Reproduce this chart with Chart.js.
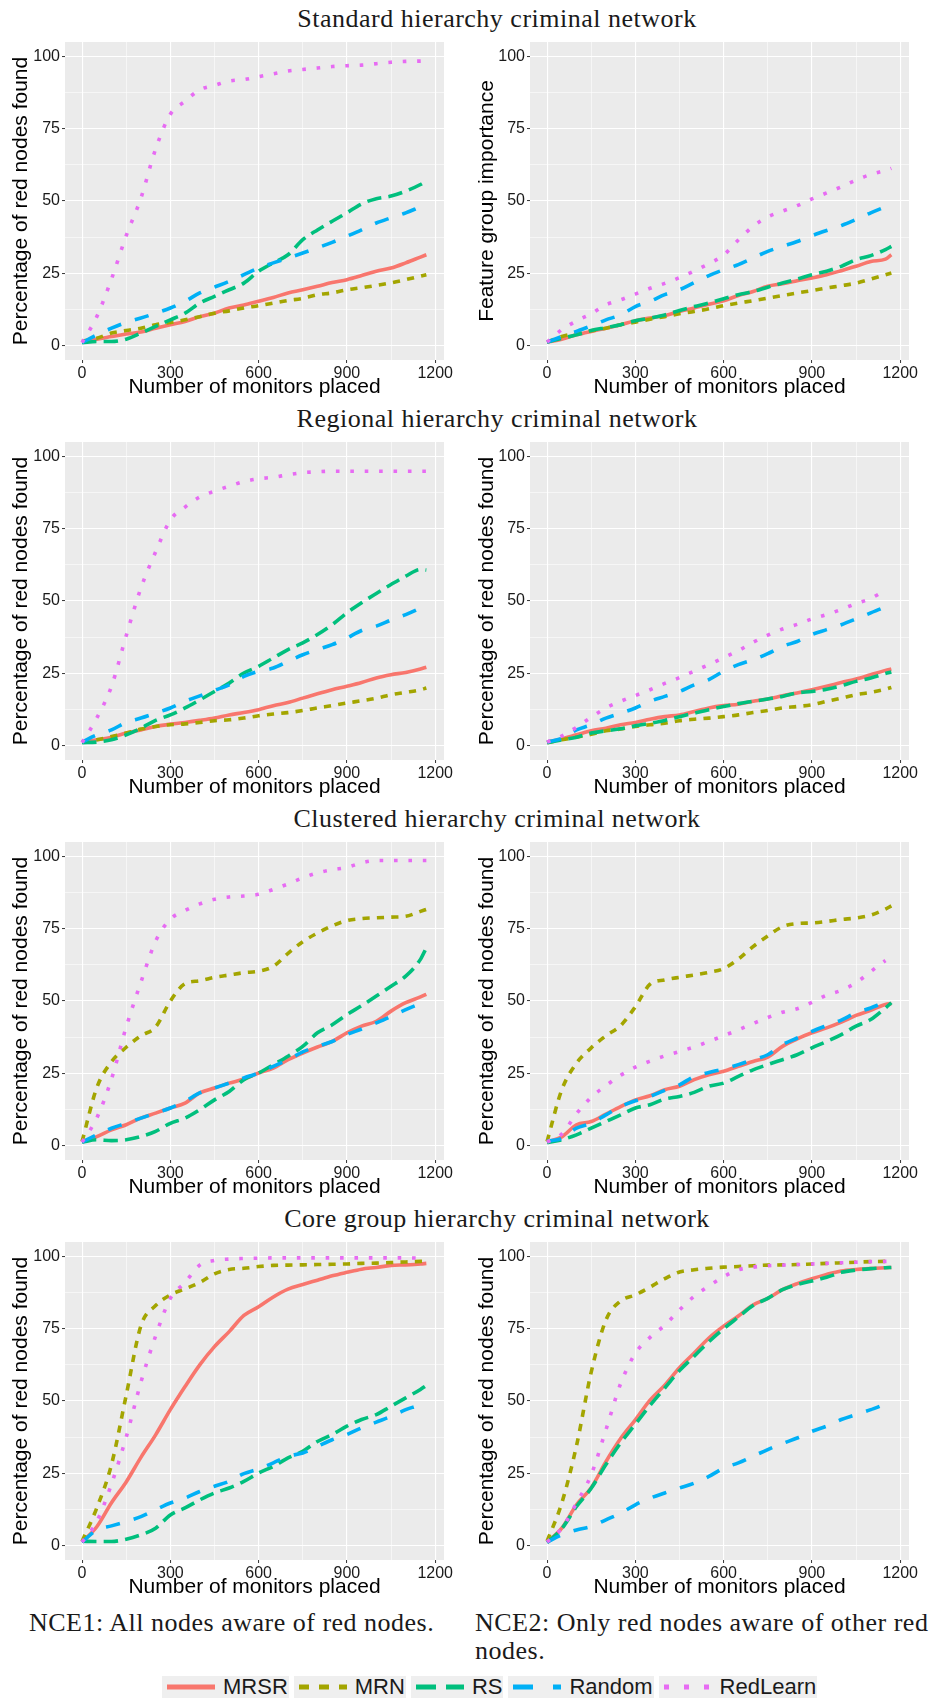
<!DOCTYPE html>
<html>
<head>
<meta charset="utf-8">
<script src="https://cdn.jsdelivr.net/npm/chart.js@4.4.1/dist/chart.umd.min.js"></script>
<style>
    body { margin: 0; background: #fff; width: 934px; height: 1700px; position: relative; overflow: hidden; }
    canvas { position: absolute; }
    .row-title, .caption {
        position: absolute;
        font-family: "Liberation Serif", "DejaVu Serif", serif;
        font-size: 26px;
        line-height: 28px;
        letter-spacing: 0.5px;
        color: #1a1a1a;
        white-space: nowrap;
    }
    .row-title { left: 97px; width: 800px; text-align: center; }
    #legend {
        position: absolute; left: 162px; top: 1676px; height: 22px;
        display: flex; gap: 5px;
        font-family: "Liberation Sans", Arial, sans-serif; font-size: 22px; color: #1a1a1a;
    }
    .item { display: flex; align-items: center; background: #efefef; height: 22px; padding-right: 1px; }
    .item svg { margin: 0 8px 0 5px; }
</style>
</head>
<body>

<div class="row-title" style="top:5px">Standard hierarchy criminal network</div>
<div class="row-title" style="top:405px">Regional hierarchy criminal network</div>
<div class="row-title" style="top:805px">Clustered hierarchy criminal network</div>
<div class="row-title" style="top:1205px">Core group hierarchy criminal network</div>

<canvas id="std1" width="467" height="360" style="left:0;top:40px"></canvas>
<canvas id="std2" width="467" height="360" style="left:467px;top:40px"></canvas>
<canvas id="reg1" width="467" height="360" style="left:0;top:440px"></canvas>
<canvas id="reg2" width="467" height="360" style="left:467px;top:440px"></canvas>
<canvas id="clu1" width="467" height="360" style="left:0;top:840px"></canvas>
<canvas id="clu2" width="467" height="360" style="left:467px;top:840px"></canvas>
<canvas id="core1" width="467" height="360" style="left:0;top:1240px"></canvas>
<canvas id="core2" width="467" height="360" style="left:467px;top:1240px"></canvas>

<div class="caption" style="left:29px;top:1609px">NCE1: All nodes aware of red nodes.</div>
<div class="caption" style="left:475px;top:1609px">NCE2: Only red nodes aware of other red<br>nodes.</div>

<div id="legend"></div>

<script>
// monitors placed (shared x positions for every series)
const xValues = [0, 50, 100, 150, 200, 250, 300, 350, 400, 450, 500, 550, 600, 650, 700, 750, 800, 850, 900, 950, 1000, 1050, 1100, 1150, 1170];
const xTicks = [0, 300, 600, 900, 1200];
const xMinor = [150, 450, 750, 1050];
const yTicks = [0, 25, 50, 75, 100];
const yMinor = [12.5, 37.5, 62.5, 87.5];

const seriesNames = ["MRSR", "MRN", "RS", "Random", "RedLearn"];
const seriesColors = ["#F8766D", "#A3A500", "#00BF7D", "#00B0F6", "#E76BF3"];

// Standard hierarchy
const std1Mrsr = [1.2, 2.2, 3.1, 4, 4.7, 6, 7.2, 8.3, 10, 11.2, 13, 14, 15.3, 16.6, 18.2, 19.3, 20.5, 21.8, 22.8, 24.2, 25.7, 26.8, 28.6, 30.6, 31.4];
const std1Mrn = [1.5, 2.5, 4.3, 5.2, 6, 7.2, 8, 8.9, 10, 11.2, 12, 13, 13.8, 14.7, 15.6, 16.3, 17.6, 18.2, 19.3, 20, 20.8, 21.7, 22.8, 24, 24.5];
const std1Rs = [1, 1.4, 1.4, 2.2, 4.3, 6.6, 8.9, 11.2, 14.7, 17, 19.3, 21.6, 25.7, 28.6, 31.4, 36.6, 40, 43, 45.9, 49, 50.8, 51.7, 53.4, 55.7, 56.9];
const std1Random = [1, 3.7, 6, 8, 9.5, 11.2, 13, 15.3, 18.2, 20.2, 22.2, 24.5, 26.8, 28.6, 30.3, 32, 33.8, 35.7, 37.8, 40, 42.4, 44.2, 45.9, 48, 48.8];
const std1RedLearn = [1, 10, 23, 38, 51, 68, 80, 84.5, 88.5, 90, 91.5, 92, 93, 94, 95, 95.5, 96, 96.5, 96.8, 97, 97.5, 98, 98.3, 98.4, 98.5];

const std2Mrsr = [1.2, 2.2, 3.7, 4.9, 6, 7.2, 8.6, 9.5, 10.4, 11.8, 13, 14.3, 15.5, 17.3, 18.7, 20.5, 21.4, 22.4, 23.4, 24.5, 25.9, 27.4, 29.1, 29.9, 31.4];
const std2Mrn = [1.2, 3.1, 4.3, 5.1, 6, 7.2, 8.1, 9.1, 10, 11, 11.8, 12.7, 13.8, 14.7, 15.5, 16.4, 17.3, 18.2, 19, 19.9, 20.7, 21.6, 23, 24.5, 25.1];
const std2Rs = [1.2, 2.5, 3.7, 5.2, 6.2, 7.2, 8.6, 9.5, 10.6, 12.1, 13.5, 14.7, 16.2, 17.6, 18.7, 20.2, 21.6, 23, 24.5, 25.7, 27.4, 29.7, 31.1, 33.2, 34.3];
const std2Random = [1.2, 3.1, 4.9, 6.8, 8.9, 10.6, 13.5, 15.3, 17.6, 19.3, 21.8, 24.2, 26.2, 28, 30.3, 32.6, 34.3, 36, 38, 39.8, 41.5, 43.6, 45.9, 48, 48.8];
const std2RedLearn = [1.2, 5.5, 8.5, 11, 14.1, 15.8, 17.8, 19.8, 21.5, 23.5, 25.8, 28.3, 31.3, 36.5, 41.2, 44.5, 46.5, 48.4, 50.7, 52.8, 54.9, 57.2, 59.2, 60.6, 61.3];

// Regional hierarchy
const reg1Mrsr = [1.2, 2, 2.9, 4.3, 5.4, 6.6, 7.4, 8, 8.7, 9.5, 10.6, 11.4, 12.4, 13.8, 14.9, 16.4, 17.9, 19.3, 20.5, 21.8, 23.4, 24.5, 25.3, 26.5, 27.1];
const reg1Mrn = [1.2, 2, 3.1, 4.3, 5.7, 6.6, 7.2, 7.5, 8, 8.6, 8.9, 9.5, 10.3, 10.9, 11.4, 12.1, 13, 13.8, 14.7, 15.5, 16.4, 17.6, 18.4, 19.3, 19.9];
const reg1Rs = [1, 1.2, 2, 3.7, 6, 8.7, 10.6, 13, 15.8, 18.7, 21.6, 25.1, 27.4, 30.3, 33.2, 35.5, 38.4, 41.8, 45.9, 49.4, 52.6, 55.7, 58.6, 60.9, 60.7];
const reg1Random = [1.2, 3.7, 5.4, 8, 9.5, 11.2, 13, 15.3, 17.2, 19.1, 21, 23.9, 25.7, 26.8, 29.1, 31.4, 33.2, 34.9, 37.2, 39.8, 41.3, 43.4, 45.3, 47.6, 48.8];
const reg1RedLearn = [1, 9.5, 20.5, 38, 54.5, 67, 78, 82.5, 86, 88, 89.7, 91.3, 92.3, 92.8, 93.7, 94.4, 94.7, 94.9, 94.9, 94.9, 94.9, 94.9, 94.9, 94.9, 94.9];

const reg2Mrsr = [1.2, 2.3, 3.7, 5.1, 6, 7.2, 8, 9.1, 10, 10.6, 11.8, 13, 13.8, 14.3, 15.3, 16.1, 17.2, 18.2, 19.3, 20.5, 21.8, 23, 24.5, 26, 26.5];
const reg2Mrn = [1, 2, 2.9, 3.9, 5.1, 5.7, 6.6, 7.2, 7.7, 8.6, 9.1, 9.5, 10, 10.6, 11.4, 12.1, 13, 13.5, 14.1, 15.3, 16.4, 17.6, 18.4, 19.5, 20.1];
const reg2Rs = [1, 2, 2.9, 4.3, 5.1, 5.8, 6.8, 7.7, 8.7, 10, 11.2, 12.4, 13.5, 14.5, 15.3, 16.1, 17, 18.2, 18.7, 19.5, 20.7, 22.2, 23.4, 24.9, 25.4];
const reg2Random = [1.2, 2.5, 5.4, 7.2, 9.5, 11.2, 13, 15.3, 17, 18.7, 21, 22.8, 25.7, 28, 29.7, 31.8, 34.3, 36, 38.4, 40.1, 41.8, 43.8, 45.9, 48, 49.1];
const reg2RedLearn = [1.2, 3.3, 6.3, 9.8, 13, 15.3, 17.3, 19.3, 21.5, 23.5, 25.8, 28, 30.4, 32.8, 35.7, 38.2, 40.3, 41.9, 43.8, 45.3, 47.1, 49.1, 50.9, 53.8, null];

// Clustered hierarchy
const clu1Mrsr = [1.2, 3.1, 5.4, 7.2, 9.5, 11.2, 13, 14.7, 18.2, 19.9, 21.6, 23, 25.1, 26.8, 29.7, 32, 34.1, 36, 39, 41.3, 43, 46.5, 49.4, 51.4, 52.3];
const clu1Mrn = [1.4, 20, 29, 34, 38, 41, 50, 56, 57, 58.2, 59, 59.8, 60.3, 62, 66.5, 70.5, 73.5, 76, 77.8, 78.5, 78.8, 79, 79.3, 81, 81.7];
const clu1Rs = [1.2, 2, 1.7, 2, 3.1, 4.9, 7.7, 9.5, 12.4, 15.8, 18.7, 22.8, 25.1, 28, 30.9, 34.3, 39, 41.8, 45.3, 48.4, 51.7, 55.1, 58.6, 64.4, 68.4];
const clu1Random = [1.2, 3.7, 6, 7.7, 9.5, 11.2, 13, 15.3, 18.2, 19.9, 21.6, 23.4, 25.1, 27.4, 29.7, 32.4, 34.3, 36, 38.4, 40.3, 42.4, 44.7, 47, 49.1, 49.9];
const clu1RedLearn = [1.2, 9.5, 23, 41, 56.5, 70.7, 78.3, 81.3, 83.6, 85.2, 86, 86.3, 86.9, 88.6, 90.5, 92.6, 94.3, 95.4, 96.2, 97.8, 98.6, 98.6, 98.6, 98.6, 98.6];

const clu2Mrsr = [1.2, 3, 7.2, 8.3, 10.9, 13.5, 15.8, 17.2, 19.3, 20.5, 22.8, 24.5, 25.7, 27.4, 29.1, 30.6, 34.3, 36.9, 39, 40.7, 42.7, 45, 46.8, 48.8, 49.1];
const clu2Mrn = [1.4, 19.3, 28.5, 33.8, 38, 41.5, 48, 55.8, 57.3, 58.2, 59, 59.9, 61.2, 64.5, 68.8, 72.5, 75.7, 76.8, 77, 77.5, 78.2, 78.7, 79.7, 81.8, 82.9];
const clu2Rs = [1, 2, 3.7, 6, 8.3, 10.6, 13, 14.1, 16.1, 17, 18.4, 20.5, 21.6, 23.9, 26.2, 28, 29.7, 31.4, 33.8, 36, 38.4, 41.3, 43.6, 47.6, 49.4];
const clu2Random = [1.5, 2.5, 6, 7.7, 10.6, 13.5, 15.5, 17, 19.1, 21, 23.9, 25.3, 26.5, 28, 29.7, 31.4, 34.9, 37.2, 39.5, 41.5, 43.4, 45.9, 47.6, 49.6, 50.2];
const clu2RedLearn = [1.2, 4, 11, 16.7, 20.7, 24.3, 27.1, 29.2, 31, 32.5, 34.1, 36, 38, 40, 42.2, 44.3, 46.1, 47.3, 49.5, 52, 53.7, 56.3, 60.2, 64, null];

// Core group hierarchy
const core1Mrsr = [1.2, 6.5, 14.8, 22, 30.5, 38.3, 47, 55, 62.5, 68.8, 74, 79.6, 82.6, 86, 88.7, 90.3, 91.8, 93.3, 94.5, 95.6, 96.2, 96.9, 97.1, 97.4, 97.6];
const core1Mrn = [1.4, 13, 28, 52, 76, 83, 86.7, 88.8, 91, 94, 95.5, 95.9, 96.5, 96.9, 97, 97.1, 97.2, 97.3, 97.4, 97.6, 97.7, 97.9, 98.1, 98.3, 98.4];
const core1Rs = [1.5, 1.4, 1.4, 2.2, 3.7, 6, 10.6, 13, 15.8, 18.2, 19.9, 22.2, 25.1, 27.4, 30.3, 32.6, 36, 38.4, 41.3, 43.6, 45.3, 48.2, 51.1, 54, 55.4];
const core1Random = [1.2, 5.4, 6.8, 8.3, 10, 12.4, 14.7, 16.4, 18.7, 20.5, 22.2, 24.9, 26.5, 28.6, 30.9, 32, 34.3, 36.6, 38.4, 40.7, 42.7, 44.7, 47, 48.8, 49.9];
const core1RedLearn = [1.2, 8.3, 21.3, 37.5, 56.5, 72.5, 85.5, 91, 97, 98.6, 99.1, 99.3, 99.4, 99.5, 99.5, 99.5, 99.5, 99.5, 99.5, 99.5, 99.5, 99.5, 99.5, 99.4, 99.3];

const core2Mrsr = [1.2, 6, 14.1, 20, 29, 37, 43.5, 50.3, 55.5, 61.5, 66.6, 71.8, 75.9, 79.4, 83.2, 85.5, 88.5, 90.6, 92.3, 93.8, 95, 95.5, 95.8, 96.1, 96.2];
const core2Mrn = [1.5, 14.7, 34.5, 60, 78, 84.6, 86.7, 89.4, 92.3, 94.6, 95.4, 95.9, 96.3, 96.5, 96.8, 97, 97.1, 97.2, 97.4, 97.6, 97.8, 98, 98.2, 98.3, 98.4];
const core2Rs = [1, 5.8, 13.5, 19.8, 28, 35.5, 42, 48.5, 54.5, 60.5, 65.5, 70.5, 75, 79, 83, 85.5, 88.5, 90.3, 91.5, 92.8, 94.5, 95.3, 95.8, 96.1, 96.2];
const core2Random = [1.2, 3.7, 5.4, 6.6, 8.9, 11.2, 14.1, 16.4, 18.2, 19.9, 21.6, 23.9, 26.8, 28.6, 30.9, 33.2, 35.3, 37.2, 39.5, 41.3, 43.6, 45.3, 47, 49.1, 50.5];
const core2RedLearn = [1.2, 6, 14.7, 24.5, 40, 56, 66.5, 72, 76.2, 81.5, 86.2, 89.8, 93, 95.4, 96.3, 96.8, 97, 97.2, 97.4, 97.6, 97.8, 98, 98.2, 98.3, 98.4];

const LW = 3.6;
// ggplot linetypes: solid, "22", "42", "44", "13"
const dashUnits = [[], [2, 2], [4, 2], [4, 4], [1, 3]];

const sansFont = "'Liberation Sans', Arial, sans-serif";
Chart.defaults.font.family = sansFont;

const panelBg = {
    id: 'panelBg',
    beforeDraw(chart) {
        const { ctx, chartArea: a } = chart;
        ctx.save();
        ctx.fillStyle = '#ebebeb';
        ctx.fillRect(a.left, a.top, a.right - a.left, a.bottom - a.top);
        ctx.restore();
    }
};

const isMajor = (list, c) => c.tick && list.includes(c.tick.value);

function makePanel(id, series, yTitle, left) {
    new Chart(document.getElementById(id), {
        type: 'line',
        data: {
            datasets: series.map((vals, i) => ({
                label: seriesNames[i],
                data: vals.map((y, k) => ({ x: xValues[k], y: y })),
                borderColor: seriesColors[i],
                borderWidth: LW,
                borderDash: dashUnits[i].map(u => u * LW),
                borderCapStyle: 'butt',
                borderJoinStyle: 'round',
                pointRadius: 0,
                cubicInterpolationMode: 'monotone',
                fill: false,
                order: 5 - i
            }))
        },
        options: {
            responsive: false,
            animation: false,
            devicePixelRatio: 1,
            layout: { padding: { left: 0, right: left ? 23 : 25, top: 2, bottom: 0 } },
            plugins: { legend: { display: false }, tooltip: { enabled: false } },
            scales: {
                x: {
                    type: 'linear', min: -58, max: 1230,
                    afterBuildTicks: ax => { ax.ticks = xTicks.concat(xMinor).sort((a, b) => a - b).map(v => ({ value: v })); },
                    afterFit: ax => { ax.height = 40; ax.paddingLeft = 0; ax.paddingRight = 0; },
                    ticks: {
                        autoSkip: false, maxRotation: 0, padding: 1,
                        color: '#1a1a1a', font: { size: 16 },
                        callback: v => xTicks.includes(v) ? String(v) : ''
                    },
                    grid: {
                        color: '#ffffff',
                        lineWidth: c => isMajor(xTicks, c) ? 1.1 : 0.55,
                        tickLength: 3, tickWidth: 1,
                        tickColor: c => isMajor(xTicks, c) ? '#333333' : 'rgba(0,0,0,0)'
                    },
                    border: { display: false },
                    title: { display: true, text: 'Number of monitors placed', color: '#000', font: { size: 21 }, padding: 0 }
                },
                y: {
                    type: 'linear', min: -5, max: 105,
                    afterBuildTicks: ax => { ax.ticks = yTicks.concat(yMinor).sort((a, b) => a - b).map(v => ({ value: v })); },
                    afterFit: ax => { ax.width = left ? 65 : 63; ax.paddingTop = 0; ax.paddingBottom = 0; },
                    ticks: {
                        autoSkip: false, padding: 2,
                        color: '#1a1a1a', font: { size: 16 },
                        callback: v => yTicks.includes(v) ? String(v) : ''
                    },
                    grid: {
                        color: '#ffffff',
                        lineWidth: c => isMajor(yTicks, c) ? 1.1 : 0.55,
                        tickLength: 3, tickWidth: 1,
                        tickColor: c => isMajor(yTicks, c) ? '#333333' : 'rgba(0,0,0,0)'
                    },
                    border: { display: false },
                    title: { display: true, text: yTitle, color: '#000', font: { size: 21 }, padding: { top: left ? 9 : 8, bottom: 0 } }
                }
            }
        },
        plugins: [panelBg]
    });
}

const redTitle = 'Percentage of red nodes found';
makePanel('std1', [std1Mrsr, std1Mrn, std1Rs, std1Random, std1RedLearn], redTitle, true);
makePanel('std2', [std2Mrsr, std2Mrn, std2Rs, std2Random, std2RedLearn], 'Feature group importance', false);
makePanel('reg1', [reg1Mrsr, reg1Mrn, reg1Rs, reg1Random, reg1RedLearn], redTitle, true);
makePanel('reg2', [reg2Mrsr, reg2Mrn, reg2Rs, reg2Random, reg2RedLearn], redTitle, false);
makePanel('clu1', [clu1Mrsr, clu1Mrn, clu1Rs, clu1Random, clu1RedLearn], redTitle, true);
makePanel('clu2', [clu2Mrsr, clu2Mrn, clu2Rs, clu2Random, clu2RedLearn], redTitle, false);
makePanel('core1', [core1Mrsr, core1Mrn, core1Rs, core1Random, core1RedLearn], redTitle, true);
makePanel('core2', [core2Mrsr, core2Mrn, core2Rs, core2Random, core2RedLearn], redTitle, false);

// shared legend at the bottom
const legendEl = document.getElementById('legend');
const keyW = 5;
legendEl.innerHTML = seriesNames.map((name, i) => {
    const dash = dashUnits[i].map(u => u * keyW).join(' ');
    return `<div class="item"><svg width="48" height="22"><line x1="0" y1="11" x2="48" y2="11" stroke="${seriesColors[i]}" stroke-width="${keyW}" stroke-dasharray="${dash}"/></svg>${name}</div>`;
}).join('');
</script>
</body>
</html>
